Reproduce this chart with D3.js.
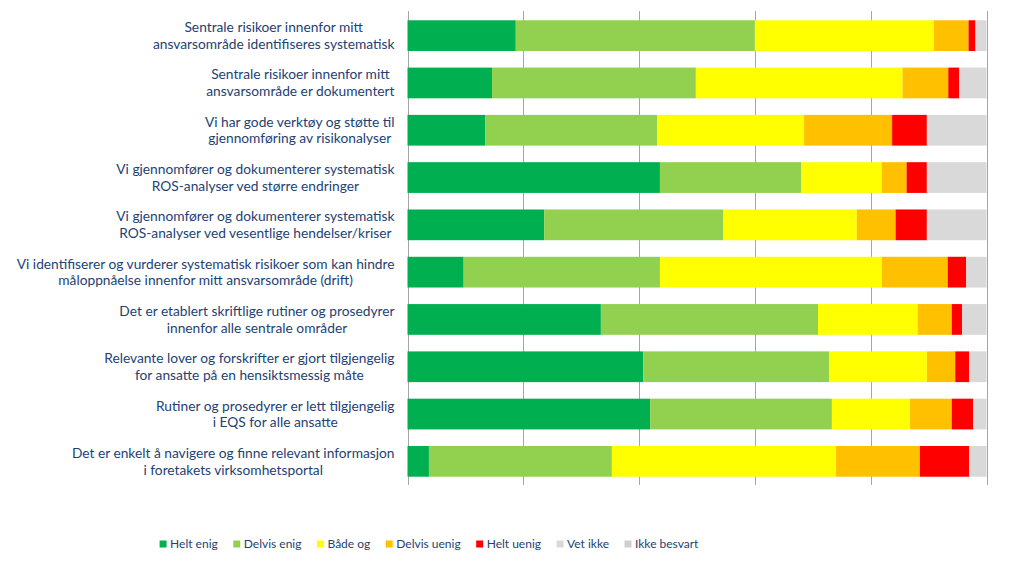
<!DOCTYPE html>
<html>
<head>
<meta charset="utf-8">
<script src="https://cdn.jsdelivr.net/npm/d3@7"></script>
<style>
  html, body { margin: 0; padding: 0; background: #fff; }
  svg { display: block; }
  text { font-family: Lato, "Open Sans", sans-serif; }
</style>
</head>
<body>
<svg id="chart" width="1024" height="567"></svg>
<script>
const categories = [
  ["Sentrale risikoer innenfor mitt", "ansvarsområde identifiseres systematisk"],
  ["Sentrale risikoer innenfor mitt", "ansvarsområde er dokumentert"],
  ["Vi har gode verktøy og støtte til", "gjennomføring av risikonalyser"],
  ["Vi gjennomfører og dokumenterer systematisk", "ROS-analyser ved større endringer"],
  ["Vi gjennomfører og dokumenterer systematisk", "ROS-analyser ved vesentlige hendelser/kriser"],
  ["Vi identifiserer og vurderer systematisk risikoer som kan hindre", "måloppnåelse innenfor mitt ansvarsområde (drift)"],
  ["Det er etablert skriftlige rutiner og prosedyrer", "innenfor alle sentrale områder"],
  ["Relevante lover og forskrifter er gjort tilgjengelig", "for ansatte på en hensiktsmessig måte"],
  ["Rutiner og prosedyrer er lett tilgjengelig", "i EQS for alle ansatte"],
  ["Det er enkelt å navigere og finne relevant informasjon", "i foretakets virksomhetsportal"]
];

const seriesNames = ["Helt enig", "Delvis enig", "Både og", "Delvis uenig", "Helt uenig", "Vet ikke", "Ikke besvart"];
const seriesColors = ["#00B050", "#92D050", "#FFFF00", "#FFC000", "#FF0000", "#D9D9D9", "#D0CECE"];

const heltEnig    = [18.7, 14.6, 13.4, 43.6, 23.6,  9.7, 33.4, 40.7, 41.9,  3.7];
const delvisEnig  = [41.3, 35.2, 29.7, 24.4, 30.9, 33.9, 37.5, 32.1, 31.4, 31.6];
const badeOg      = [30.9, 35.7, 25.4, 13.9, 23.1, 38.3, 17.2, 16.9, 13.5, 38.7];
const delvisUenig = [ 6.0,  7.9, 15.2,  4.3,  6.7, 11.4,  5.9,  4.9,  7.2, 14.5];
const heltUenig   = [ 1.2,  1.9,  6.0,  3.5,  5.4,  3.2,  1.8,  2.4,  3.7,  8.5];
const vetIkke     = [ 1.9,  4.7, 10.3, 10.3, 10.3,  3.5,  4.2,  3.0,  2.3,  3.0];
const ikkeBesvart = [ 0,    0,    0,    0,    0,    0,    0,    0,    0,    0  ];

const xTicks = [0, 20, 40, 60, 80, 100];

const seriesValues = [heltEnig, delvisEnig, badeOg, delvisUenig, heltUenig, vetIkke, ikkeBesvart];

const rows = categories.map((c, i) => {
  const r = { id: i };
  seriesNames.forEach((s, k) => r[s] = seriesValues[k][i]);
  return r;
});

const svg = d3.select("#chart");
const plot = { left: 407.5, right: 986.5, top: 12, bottom: 485 };

const x = d3.scaleLinear().domain([0, 100]).range([plot.left, plot.right]);
const y = d3.scaleBand().domain(d3.range(categories.length))
  .range([plot.top, plot.bottom]).paddingInner(0.35).paddingOuter(0.175);
const color = d3.scaleOrdinal().domain(seriesNames).range(seriesColors);

// gridlines
svg.append("g").selectAll("line").data(xTicks).join("line")
  .attr("x1", d => Math.round(x(d)) + 0.5).attr("x2", d => Math.round(x(d)) + 0.5)
  .attr("y1", plot.top - 1).attr("y2", plot.bottom)
  .attr("stroke", "#A6A6A6").attr("stroke-width", 1);

// stacked bars
const stack = d3.stack().keys(seriesNames);
const stacked = stack(rows);
svg.append("g").selectAll("g").data(stacked).join("g")
  .attr("fill", d => color(d.key))
  .selectAll("rect").data(d => d).join("rect")
  .attr("x", d => x(d[0]))
  .attr("width", d => Math.max(0, x(d[1]) - x(d[0])))
  .attr("y", (d, i) => y(i))
  .attr("height", y.bandwidth());

// category labels
const textColor = "#243F73";
const labelRight = 394.5;
const lineGap = 16.7;
const lblG = svg.append("g");
categories.forEach((lines, i) => {
  const cy = y(i) + y.bandwidth() / 2;
  const t = lblG.append("text")
    .attr("font-size", 13.75).attr("fill", textColor).attr("text-anchor", "middle");
  const spans = lines.map((ln, j) => t.append("tspan")
    .attr("y", cy + (j - (lines.length - 1) / 2) * lineGap)
    .attr("dy", "0.35em").text(ln));
  const w = d3.max(spans, s => s.node().getComputedTextLength());
  spans.forEach(s => s.attr("x", labelRight - w / 2));
});

// legend
const legend = svg.append("g");
const legY = 544;
const items = seriesNames.map((name, k) => {
  const g = legend.append("g");
  g.append("rect").attr("width", 7).attr("height", 7).attr("y", legY - 3.5)
    .attr("fill", color(name));
  const t = g.append("text").attr("x", 10.5).attr("y", legY).attr("dy", "0.35em")
    .attr("font-size", 12).attr("fill", textColor).text(name);
  return { g, w: 10.5 + t.node().getComputedTextLength() };
});
const gap = 15.5;
const total = d3.sum(items, d => d.w) + gap * (items.length - 1);
let cx = 429 - total / 2;
items.forEach(it => { it.g.attr("transform", `translate(${cx},0)`); cx += it.w + gap; });
</script>
</body>
</html>
